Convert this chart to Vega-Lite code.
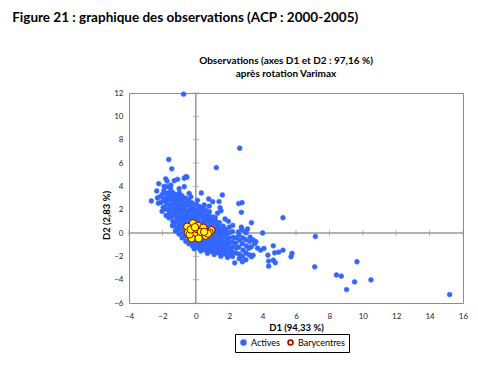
{
  "$schema": "https://vega.github.io/schema/vega-lite/v6.json",
  "padding": {"left": 12, "top": 11, "right": 5, "bottom": 5},
  "title": {"text": "Figure 21 : graphique des observations (ACP : 2000-2005)", "anchor": "start", "dx": -89, "font": "Lato", "fontSize": 13.5, "fontWeight": "bold", "color": "#000000", "offset": 31},
  "datasets": {
    "actives": [
      {"x":-2.02,"y":1.85},{"x":-1.95,"y":2.2},{"x":-2.08,"y":2.62},{"x":-1.9,"y":2.9},{"x":-2.0,"y":3.3},{"x":-1.92,"y":3.62},
      {"x":-1.78,"y":1.5},{"x":-1.82,"y":2.05},{"x":-1.75,"y":2.45},{"x":-1.85,"y":2.75},{"x":-1.72,"y":3.05},{"x":-1.8,"y":3.4},
      {"x":-1.62,"y":1.3},{"x":-1.58,"y":1.72},{"x":-1.65,"y":2.0},{"x":-1.55,"y":2.38},{"x":-1.6,"y":2.8},{"x":-1.57,"y":3.12},{"x":-1.63,"y":3.45},
      {"x":-1.4,"y":0.62},{"x":-1.38,"y":1.0},{"x":-1.45,"y":1.4},{"x":-1.35,"y":1.78},{"x":-1.42,"y":2.12},{"x":-1.37,"y":2.52},{"x":-1.44,"y":2.9},{"x":-1.39,"y":3.22},{"x":-1.41,"y":3.5},
      {"x":-1.22,"y":0.18},{"x":-1.18,"y":0.52},{"x":-1.25,"y":0.9},{"x":-1.15,"y":1.28},{"x":-1.2,"y":1.6},{"x":-1.24,"y":2.02},{"x":-1.16,"y":2.32},{"x":-1.21,"y":2.7},{"x":-1.19,"y":3.02},{"x":-1.23,"y":3.32},
      {"x":-1.0,"y":-0.1},{"x":-1.03,"y":0.28},{"x":-0.97,"y":0.62},{"x":-1.02,"y":0.98},{"x":-0.98,"y":1.32},{"x":-1.04,"y":1.68},{"x":-0.99,"y":2.02},{"x":-1.01,"y":2.38},{"x":-0.96,"y":2.78},{"x":-1.03,"y":3.1},{"x":-0.98,"y":3.42},
      {"x":-0.82,"y":-0.42},{"x":-0.78,"y":0.02},{"x":-0.8,"y":0.38},{"x":-0.84,"y":0.72},{"x":-0.77,"y":1.08},{"x":-0.81,"y":1.42},{"x":-0.79,"y":1.78},{"x":-0.83,"y":2.12},{"x":-0.76,"y":2.48},{"x":-0.8,"y":2.82},{"x":-0.82,"y":3.18},
      {"x":-0.6,"y":-0.72},{"x":-0.63,"y":-0.3},{"x":-0.57,"y":0.08},{"x":-0.61,"y":0.42},{"x":-0.59,"y":0.78},{"x":-0.62,"y":1.18},{"x":-0.58,"y":1.52},{"x":-0.6,"y":1.88},{"x":-0.64,"y":2.22},{"x":-0.57,"y":2.58},{"x":-0.61,"y":2.98},
      {"x":-0.42,"y":-0.92},{"x":-0.38,"y":-0.58},{"x":-0.4,"y":-0.22},{"x":-0.43,"y":0.18},{"x":-0.37,"y":0.52},{"x":-0.41,"y":0.88},{"x":-0.39,"y":1.28},{"x":-0.44,"y":1.62},{"x":-0.36,"y":1.98},{"x":-0.4,"y":2.38},{"x":-0.42,"y":2.78},
      {"x":-0.2,"y":-1.1},{"x":-0.23,"y":-0.78},{"x":-0.18,"y":-0.42},{"x":-0.21,"y":0.02},{"x":-0.17,"y":0.32},{"x":-0.22,"y":0.68},{"x":-0.19,"y":1.08},{"x":-0.24,"y":1.42},{"x":-0.16,"y":1.78},{"x":-0.2,"y":2.18},{"x":-0.22,"y":2.58},
      {"x":0.02,"y":-1.22},{"x":-0.03,"y":-0.88},{"x":0.0,"y":-0.52},{"x":0.03,"y":-0.18},{"x":-0.02,"y":0.18},{"x":0.01,"y":0.52},{"x":0.04,"y":0.88},{"x":-0.01,"y":1.28},{"x":0.02,"y":1.62},{"x":0.0,"y":1.98},{"x":0.03,"y":2.42},
      {"x":0.2,"y":-1.32},{"x":0.17,"y":-1.0},{"x":0.22,"y":-0.68},{"x":0.18,"y":-0.32},{"x":0.23,"y":0.02},{"x":0.19,"y":0.38},{"x":0.21,"y":0.72},{"x":0.16,"y":1.12},{"x":0.22,"y":1.48},{"x":0.18,"y":1.88},{"x":0.2,"y":2.28},
      {"x":0.4,"y":-1.4},{"x":0.43,"y":-1.08},{"x":0.38,"y":-0.78},{"x":0.41,"y":-0.42},{"x":0.37,"y":-0.08},{"x":0.42,"y":0.28},{"x":0.39,"y":0.62},{"x":0.44,"y":0.98},{"x":0.4,"y":1.38},{"x":0.36,"y":1.78},{"x":0.41,"y":2.12},
      {"x":0.6,"y":-1.48},{"x":0.57,"y":-1.18},{"x":0.62,"y":-0.88},{"x":0.58,"y":-0.52},{"x":0.63,"y":-0.18},{"x":0.59,"y":0.18},{"x":0.61,"y":0.52},{"x":0.56,"y":0.88},{"x":0.62,"y":1.22},{"x":0.6,"y":1.58},{"x":0.58,"y":1.98},
      {"x":0.8,"y":-1.52},{"x":0.83,"y":-1.22},{"x":0.78,"y":-0.88},{"x":0.81,"y":-0.58},{"x":0.77,"y":-0.22},{"x":0.82,"y":0.12},{"x":0.79,"y":0.42},{"x":0.84,"y":0.78},{"x":0.8,"y":1.12},{"x":0.76,"y":1.48},{"x":0.82,"y":1.82},
      {"x":1.0,"y":-1.62},{"x":0.97,"y":-1.28},{"x":1.02,"y":-0.98},{"x":0.98,"y":-0.62},{"x":1.03,"y":-0.28},{"x":0.99,"y":0.02},{"x":1.01,"y":0.32},{"x":0.96,"y":0.68},{"x":1.02,"y":1.02},{"x":1.0,"y":1.38},
      {"x":1.2,"y":-1.68},{"x":1.23,"y":-1.32},{"x":1.18,"y":-1.02},{"x":1.21,"y":-0.68},{"x":1.17,"y":-0.32},{"x":1.22,"y":0.02},{"x":1.19,"y":0.28},{"x":1.24,"y":0.62},{"x":1.2,"y":0.98},{"x":1.16,"y":1.32},
      {"x":1.4,"y":-1.72},{"x":1.37,"y":-1.38},{"x":1.42,"y":-1.08},{"x":1.38,"y":-0.72},{"x":1.43,"y":-0.38},{"x":1.39,"y":-0.08},{"x":1.41,"y":0.22},{"x":1.36,"y":0.52},{"x":1.42,"y":0.88},
      {"x":1.6,"y":-1.78},{"x":1.63,"y":-1.42},{"x":1.58,"y":-1.12},{"x":1.61,"y":-0.78},{"x":1.57,"y":-0.42},{"x":1.62,"y":-0.12},{"x":1.59,"y":0.22},{"x":1.64,"y":0.58},
      {"x":1.8,"y":-1.82},{"x":1.77,"y":-1.48},{"x":1.82,"y":-1.12},{"x":1.78,"y":-0.82},{"x":1.83,"y":-0.48},{"x":1.79,"y":-0.12},{"x":1.81,"y":0.28},
      {"x":2.0,"y":-1.92},{"x":2.03,"y":-1.52},{"x":1.98,"y":-1.18},{"x":2.01,"y":-0.82},{"x":1.97,"y":-0.42},{"x":2.02,"y":0.02},
      {"x":2.2,"y":-2.02},{"x":2.17,"y":-1.62},{"x":2.22,"y":-1.22},{"x":2.18,"y":-0.78},{"x":2.23,"y":-0.38},{"x":2.19,"y":0.12},
      {"x":2.4,"y":-1.72},{"x":2.43,"y":-1.28},{"x":2.38,"y":-0.88},{"x":2.41,"y":-0.42},
      {"x":2.6,"y":-1.82},{"x":2.57,"y":-1.22},{"x":2.62,"y":-0.62},{"x":2.58,"y":-0.18},
      {"x":2.8,"y":-2.0},{"x":2.83,"y":-1.48},{"x":2.78,"y":-0.92},{"x":2.81,"y":-0.42},{"x":2.77,"y":0.28},
      {"x":3.0,"y":-1.72},{"x":3.03,"y":-1.12},{"x":2.98,"y":-0.58},{"x":3.02,"y":0.02},
      {"x":3.2,"y":-1.88},{"x":3.17,"y":-1.32},{"x":3.22,"y":-0.72},
      {"x":-0.73,"y":11.9},{"x":2.63,"y":7.27},{"x":1.23,"y":5.6},{"x":-1.62,"y":6.3},{"x":-1.44,"y":5.5},{"x":-1.8,"y":4.64},{"x":-1.72,"y":4.45},{"x":-1.29,"y":4.48},{"x":-1.09,"y":4.6},{"x":-0.69,"y":4.69},{"x":-0.59,"y":4.83},{"x":-0.53,"y":4.78},
      {"x":-2.22,"y":4.23},{"x":-2.34,"y":3.6},{"x":-2.66,"y":2.74},{"x":-2.24,"y":2.55},{"x":-1.74,"y":3.97},{"x":-1.52,"y":3.83},{"x":-0.69,"y":3.97},{"x":-2.15,"y":3.1},{"x":-2.3,"y":3.0},{"x":-1.5,"y":4.1},
      {"x":0.33,"y":3.43},{"x":1.59,"y":3.26},{"x":0.77,"y":2.92},{"x":1.01,"y":2.68},{"x":1.39,"y":2.69},{"x":1.45,"y":2.17},{"x":1.51,"y":1.9},{"x":2.57,"y":2.52},{"x":2.77,"y":2.6},{"x":2.73,"y":1.77},
      {"x":5.22,"y":1.31},{"x":2.21,"y":0.65},{"x":2.73,"y":0.5},{"x":3.33,"y":0.88},{"x":4.0,"y":0.0},{"x":7.16,"y":-0.3},{"x":7.12,"y":-2.9},{"x":9.65,"y":-2.47},{"x":8.42,"y":-3.6},{"x":8.71,"y":-3.7},{"x":9.51,"y":-4.19},{"x":10.49,"y":-4.02},{"x":9.03,"y":-4.85},{"x":15.2,"y":-5.28},
      {"x":5.22,"y":-1.47},{"x":5.76,"y":-1.75},{"x":5.7,"y":-2.04},{"x":4.64,"y":-1.1},{"x":4.96,"y":-1.64},{"x":4.72,"y":-1.7},{"x":4.32,"y":-1.9},{"x":4.36,"y":-2.41},{"x":4.36,"y":-2.84},{"x":4.76,"y":-2.55},{"x":4.64,"y":-2.33},
      {"x":4.08,"y":-1.33},{"x":3.88,"y":-1.47},{"x":3.53,"y":-0.9},{"x":3.43,"y":-0.6},{"x":3.33,"y":-1.18},{"x":3.43,"y":-1.9},{"x":3.33,"y":-2.04},{"x":2.79,"y":-2.47},{"x":2.33,"y":-2.56},{"x":3.6,"y":-0.75},
      {"x":3.1,"y":0.35},{"x":2.95,"y":0.1},{"x":1.75,"y":1.2},{"x":2.0,"y":0.5},{"x":1.3,"y":1.7},{"x":0.5,"y":2.4},{"x":0.8,"y":2.3},{"x":-0.3,"y":3.1},{"x":0.1,"y":2.8},{"x":-1.9,"y":4.0},{"x":-1.0,"y":3.8},{"x":-0.4,"y":3.4},
      {"x":1.95,"y":1.0},{"x":3.7,"y":-1.3},{"x":3.25,"y":-0.35},{"x":2.55,"y":0.1},{"x":1.1,"y":-1.85},{"x":0.7,"y":-1.75},{"x":1.5,"y":-2.0},{"x":1.9,"y":-2.1},{"x":-0.1,"y":-1.35},{"x":0.3,"y":-1.55},{"x":2.6,"y":-2.2},{"x":3.0,"y":-2.3}
    ],
    "barycentres": [
      {"x":-0.17,"y":0.83},{"x":-0.51,"y":0.54},{"x":0.13,"y":0.62},{"x":0.45,"y":0.45},{"x":0.93,"y":0.25},{"x":0.82,"y":0.05},{"x":-0.47,"y":0.05},{"x":-0.17,"y":0.2},{"x":0.0,"y":0.35},{"x":0.19,"y":-0.17},
      {"x":0.59,"y":-0.23},{"x":0.72,"y":-0.05},{"x":-0.07,"y":-0.23},{"x":-0.25,"y":-0.46},{"x":0.17,"y":-0.46},{"x":-0.37,"y":-0.12},{"x":-0.3,"y":0.3},{"x":0.3,"y":0.1},{"x":-0.05,"y":0.5},{"x":0.5,"y":0.1}
    ],
    "zerolines": [
      {"x":0,"y":-6,"x2":0,"y2":12},
      {"x":-4,"y":0,"x2":16,"y2":0}
    ],
    "yticks": [{"x":0,"y":-6},{"x":0,"y":-4},{"x":0,"y":-2},{"x":0,"y":0},{"x":0,"y":2},{"x":0,"y":4},{"x":0,"y":6},{"x":0,"y":8},{"x":0,"y":10},{"x":0,"y":12}],
    "xticks": [{"x":-4,"y":0},{"x":-2,"y":0},{"x":0,"y":0},{"x":2,"y":0},{"x":4,"y":0},{"x":6,"y":0},{"x":8,"y":0},{"x":10,"y":0},{"x":12,"y":0},{"x":14,"y":0},{"x":16,"y":0}]
  },
  "vconcat": [
    {
      "width": 334,
      "height": 210,
      "title": {"text": ["Observations (axes D1 et D2 : 97,16 %)", "après rotation Varimax"], "font": "Lato", "fontSize": 10, "fontWeight": "bold", "lineHeight": 13, "anchor": "middle", "dx": -10, "offset": 10, "color": "#000000"},
      "encoding": {
        "x": {"field": "x", "type": "quantitative", "title": "D1 (94,33 %)", "scale": {"domain": [-4, 16], "nice": false, "zero": false},
              "axis": {"values": [-4,-2,0,2,4,6,8,10,12,14,16], "grid": false, "ticks": false, "domain": false, "labelOverlap": false, "labelFlush": false, "labelPadding": 9, "titlePadding": 2, "labelFont": "Lato", "labelFontSize": 8, "labelColor": "#222222", "titleFont": "Lato", "titleFontSize": 9.5, "titleFontWeight": "bold", "titleColor": "#000000"}},
        "y": {"field": "y", "type": "quantitative", "title": "D2 (2,83 %)", "scale": {"domain": [-6, 12], "nice": false, "zero": false},
              "axis": {"values": [-6,-4,-2,0,2,4,6,8,10,12], "grid": false, "ticks": false, "domain": false, "labelOverlap": false, "labelFlush": false, "labelPadding": 6, "titlePadding": 2, "titleY": 122, "labelFont": "Lato", "labelFontSize": 8, "labelColor": "#222222", "titleFont": "Lato", "titleFontSize": 9.5, "titleFontWeight": "bold", "titleColor": "#000000"}}
      },
      "layer": [
        {
          "data": {"name": "zerolines"},
          "mark": {"type": "rule", "color": "#999999", "strokeWidth": 1.5},
          "encoding": {"x2": {"field": "x2"}, "y2": {"field": "y2"}}
        },
        {
          "data": {"name": "yticks"},
          "mark": {"type": "tick", "orient": "horizontal", "size": 6, "thickness": 1, "color": "#999999"},
          "encoding": {}
        },
        {
          "data": {"name": "xticks"},
          "mark": {"type": "tick", "orient": "vertical", "size": 6, "thickness": 1, "color": "#999999"},
          "encoding": {}
        },
        {
          "data": {"name": "actives"},
          "mark": {"type": "point", "filled": true, "size": 24, "strokeWidth": 0.5, "opacity": 1},
          "encoding": {
            "color": {"datum": "Actives", "type": "nominal", "scale": {"domain": ["Actives", "Barycentres"], "range": ["#3366FF", "#FFFF00"]},
                      "legend": {"title": null, "orient": "none", "legendX": 106, "legendY": 241, "direction": "horizontal", "strokeColor": "#000000", "padding": 4, "labelFont": "Lato", "labelFontSize": 9, "labelColor": "#000000", "symbolSize": 25, "symbolType": "circle", "columnPadding": 5, "labelOffset": 3}},
            "stroke": {"datum": "Actives", "type": "nominal", "scale": {"domain": ["Actives", "Barycentres"], "range": ["#3366FF", "#990000"]}, "legend": {"title": null}}
          }
        },
        {
          "data": {"name": "barycentres"},
          "mark": {"type": "point", "filled": true, "size": 55, "strokeWidth": 1, "opacity": 1},
          "encoding": {
            "color": {"datum": "Barycentres", "type": "nominal"},
            "stroke": {"datum": "Barycentres", "type": "nominal"}
          }
        }
      ]
    }
  ],
  "config": {
    "view": {"stroke": "#8c8c8c", "strokeWidth": 1},
    "axis": {"labelOverlap": false},
    "background": "#ffffff"
  }
}
